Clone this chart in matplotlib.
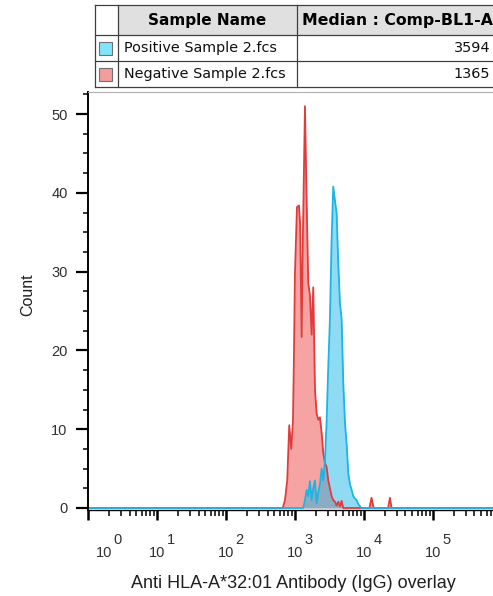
import numpy as np
import matplotlib
matplotlib.use("Agg")
import matplotlib.pyplot as plt
from matplotlib.patches import Rectangle
from matplotlib.lines import Line2D
from matplotlib import transforms


# histogram outlines, channel position in log10 units
red_log10 = [0, 2.80, 2.823, 2.855, 2.888, 2.917, 2.946, 2.971, 2.985, 3.0, 3.029,
             3.058, 3.075, 3.097, 3.116, 3.145, 3.167, 3.193, 3.217, 3.242, 3.265,
             3.290, 3.314, 3.338, 3.362, 3.387, 3.410, 3.435, 3.459, 3.483, 3.507,
             3.531, 3.555, 3.580, 3.604, 3.628, 3.652, 3.676, 3.70, 4.08, 4.11,
             4.14, 4.35, 4.377, 4.40, 6.4]
red_count = [0, 0, 0, 1, 3.5, 10.5, 7.5, 11, 19, 29.8, 38.2,
             38.4, 36, 21.7, 35, 51, 40, 28.5, 27, 22, 28,
             15, 12, 11.2, 11.5, 9.5, 7, 5.7, 5.2, 3.5, 2.5,
             1.5, 1, 0.8, 0.3, 0.8, 0.2, 0.9, 0, 0, 1.3,
             0, 0, 1.3, 0, 0]

blue_log10 = [0, 3.10, 3.12, 3.145, 3.17, 3.193, 3.217, 3.242, 3.265, 3.290, 3.314,
              3.338, 3.362, 3.387, 3.41, 3.435, 3.459, 3.483, 3.507, 3.531, 3.555,
              3.580, 3.604, 3.628, 3.652, 3.676, 3.70, 3.725, 3.75, 3.773, 3.797,
              3.822, 3.845, 3.87, 3.894, 3.918, 3.942, 3.966, 6.4]
blue_count = [0, 0, 0, 1, 2.3, 1.5, 3.4, 1, 2.5, 3.5, 0.6,
              2, 3, 5, 3.5, 6, 11, 18, 24, 34, 40.8,
              39, 37.4, 31, 26, 24, 16, 10.8, 8, 4.4, 3,
              2.3, 1.5, 1.2, 1, 0.5, 0.2, 0, 0]

sample_names = ["Positive Sample 2.fcs", "Negative Sample 2.fcs"]
medians = ["3594", "1365"]
decades = [0, 1, 2, 3, 4, 5, 6]

RED = "#e03c3c"
BLUE = "#1cb4e2"
W, H = 493, 596

plt.rcParams["font.family"] = ["Liberation Sans", "DejaVu Sans"]

fig = plt.figure(figsize=(W / 100, H / 100), dpi=100)
# pixel coords, origin at top left
px = transforms.Affine2D().scale(1 / W, -1 / H).translate(0, 1) + fig.transFigure

ax = fig.add_axes([88 / W, 86 / H, 436 / W, 418 / H])
ax.set_xscale("log")
ax.set_xlim(1, 10 ** 6.32)
ax.set_ylim(-0.254, 52.8)

x_red = 10 ** np.array(red_log10)
x_blue = 10 ** np.array(blue_log10)
ax.fill_between(x_red, 0, red_count, color="#ee5050", alpha=0.52, lw=0)
ax.plot(x_red, red_count, color=RED, lw=1.3)
ax.fill_between(x_blue, 0, blue_count, color="#20b8e8", alpha=0.5, lw=0)
ax.plot(x_blue, blue_count, color=BLUE, lw=1.3)

ax.spines["right"].set_visible(False)
ax.spines["top"].set_color("#b0b0b0")
ax.spines["top"].set_linewidth(0.8)
ax.spines["left"].set_linewidth(1.4)
ax.spines["bottom"].set_linewidth(1.0)

ax.set_yticks([0, 10, 20, 30, 40, 50])
ax.set_yticks(np.arange(0, 52.6, 2.5), minor=True)
ax.tick_params(axis="y", which="major", length=8.6, width=1.6, labelsize=10.5,
               pad=6, labelcolor="#303030")
ax.tick_params(axis="y", which="minor", length=3.8, width=1.1)

ax.set_xticks([10.0 ** d for d in decades])
ax.xaxis.set_minor_locator(matplotlib.ticker.LogLocator(base=10, subs=np.arange(2, 10), numticks=20))
ax.xaxis.set_minor_formatter(matplotlib.ticker.NullFormatter())
ax.tick_params(axis="x", which="major", length=7.5, width=1.8, labelbottom=False)
ax.tick_params(axis="x", which="minor", length=4.5, width=1.1)

# x tick labels drawn as "10" with a raised exponent
trans_lab = transforms.blended_transform_factory(ax.transData, px)
for d in decades:
    xpos = 10 ** d if d > 0 else 10 ** 0.23
    ax.text(xpos, 553, "10", transform=trans_lab, ha="center", va="center",
            fontsize=10.5, color="#303030", clip_on=False)
    ax.text(xpos * 10 ** 0.2, 540, str(d), transform=trans_lab, ha="center",
            va="center", fontsize=10.5, color="#303030", clip_on=False)

fig.text(293 / W, 1 - 583 / H, "Anti HLA-A*32:01 Antibody (IgG) overlay",
         ha="center", va="center", fontsize=13, color="#202020")
fig.text(28 / W, 1 - 295 / H, "Count", ha="center", va="center", rotation=90,
         fontsize=11.5, color="#202020")

# table on top
tab_font = ["DejaVu Sans"]
rows_y = [5, 35, 61, 87]
cols_x = [95, 118, 297, 620]
fig.add_artist(Rectangle((cols_x[1], rows_y[0]), cols_x[3] - cols_x[1], rows_y[1] - rows_y[0],
                         transform=px, facecolor="#e0e0e0", edgecolor="none"))
for yy in rows_y:
    fig.add_artist(Line2D([cols_x[0], cols_x[3]], [yy, yy], transform=px, color="#404040", lw=0.9))
for xx in cols_x[:3]:
    fig.add_artist(Line2D([xx, xx], [rows_y[0], rows_y[3]], transform=px, color="#404040", lw=0.9))

fig.text(207 / W, 1 - 20 / H, "Sample Name", ha="center", va="center", fontsize=11,
         fontweight="bold", family=tab_font)
fig.text(302 / W, 1 - 20 / H, "Median : Comp-BL1-A", ha="left", va="center", fontsize=11.3,
         fontweight="bold", family=tab_font)

swatch_colors = ["#80e4fa", "#f59c9c"]
clip = Rectangle((cols_x[1], rows_y[1]), cols_x[2] - cols_x[1] - 1, rows_y[3] - rows_y[1],
                 transform=px, facecolor="none", edgecolor="none")
fig.add_artist(clip)
for i, (name, med) in enumerate(zip(sample_names, medians)):
    yc = (rows_y[i + 1] + rows_y[i + 2]) / 2
    fig.add_artist(Rectangle((99, yc - 6.5), 13, 13, transform=px,
                             facecolor=swatch_colors[i], edgecolor="#707070", lw=0.8))
    t = fig.text(124 / W, 1 - yc / H, name, ha="left", va="center", fontsize=10.4,
                 family=tab_font, color="#101010")
    t.set_clip_path(clip)
    fig.text(490 / W, 1 - yc / H, med, ha="right", va="center", fontsize=10.4,
             family=tab_font, color="#101010")

fig.savefig("out.png", dpi=100)
